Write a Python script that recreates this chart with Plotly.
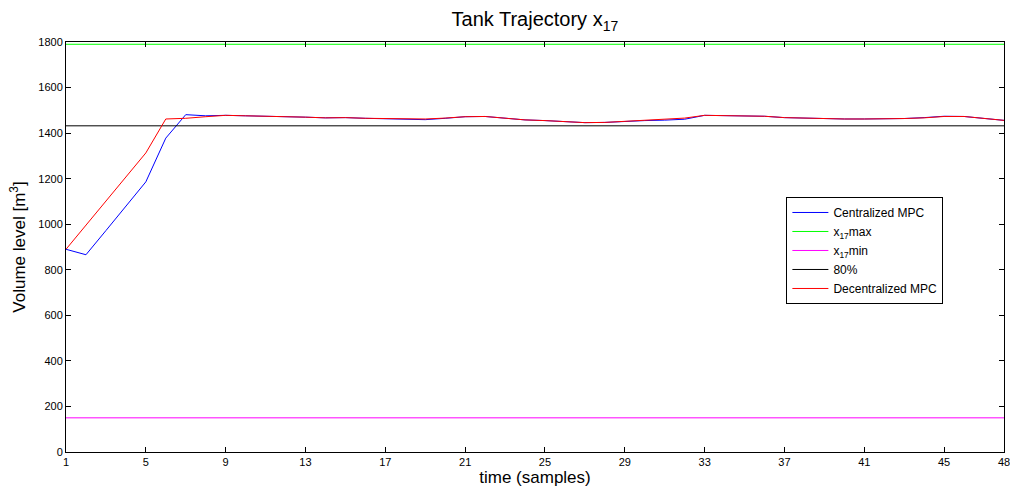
import plotly.graph_objects as go

samples = list(range(1, 49))

centralized = [890, 866, 972, 1080, 1186, 1378, 1481, 1476, 1478, 1476,
               1475, 1473, 1470, 1467, 1468, 1465, 1463, 1459, 1459, 1465,
               1472, 1473, 1466, 1458, 1455, 1451, 1446, 1447, 1452, 1455,
               1457, 1461, 1478, 1476, 1474, 1474, 1468, 1465, 1463, 1462,
               1462, 1462, 1464, 1468, 1474, 1473, 1466, 1456]

decentralized = [890, 996, 1102, 1207, 1313, 1462, 1465, 1472, 1478, 1476,
                 1475, 1473, 1470, 1467, 1468, 1465, 1464, 1461, 1462, 1466,
                 1472, 1473, 1466, 1458, 1455, 1451, 1446, 1447, 1452, 1456,
                 1460, 1466, 1478, 1476, 1474, 1474, 1468, 1465, 1463, 1462,
                 1462, 1462, 1464, 1467, 1473, 1473, 1466, 1456]

x_max_level = 1790
x_min_level = 150
level_80pct = 1432

x_ticks = [1, 5, 9, 13, 17, 21, 25, 29, 33, 37, 41, 45, 48]
y_ticks = [0, 200, 400, 600, 800, 1000, 1200, 1400, 1600, 1800]

FONT = "Liberation Sans, Arial, Helvetica, sans-serif"

fig = go.Figure()
fig.add_trace(go.Scatter(x=samples, y=centralized, mode="lines",
                         name="Centralized MPC",
                         line=dict(color="#0000ff", width=1)))
fig.add_trace(go.Scatter(x=samples, y=[x_max_level] * len(samples), mode="lines",
                         name="x<sub>17</sub>max",
                         line=dict(color="#00ff00", width=1)))
fig.add_trace(go.Scatter(x=samples, y=[x_min_level] * len(samples), mode="lines",
                         name="x<sub>17</sub>min",
                         line=dict(color="#ff00ff", width=1)))
fig.add_trace(go.Scatter(x=samples, y=[level_80pct] * len(samples), mode="lines",
                         name="80%",
                         line=dict(color="#000000", width=1)))
fig.add_trace(go.Scatter(x=samples, y=decentralized, mode="lines",
                         name="Decentralized MPC",
                         line=dict(color="#ff0000", width=1)))

axis_common = dict(
    showgrid=False, zeroline=False, showline=True, linecolor="black",
    linewidth=1, mirror="ticks", ticks="inside", ticklen=5, tickcolor="black",
    tickfont=dict(family=FONT, size=11, color="black"),
    ticklabeloverflow="allow", automargin=False,
)

fig.update_layout(
    width=1010, height=495,
    margin=dict(l=66, r=6, t=42, b=43, autoexpand=False),
    paper_bgcolor="white", plot_bgcolor="white",
    font=dict(family=FONT, color="black"),
    title=dict(text="Tank Trajectory x<sub>17</sub>", x=0.5296, xanchor="center",
               y=0.975, yanchor="top", font=dict(family=FONT, size=20, color="black")),
    xaxis=dict(range=[1, 48], tickvals=x_ticks, ticktext=[str(t) for t in x_ticks],
               title=dict(text="time (samples)", standoff=2,
                          font=dict(family=FONT, size=17, color="black")),
               **axis_common),
    yaxis=dict(range=[0, 1800], tickvals=y_ticks, ticktext=[str(t) for t in y_ticks],
               title=dict(text="Volume level [m<sup>3</sup>]", standoff=8,
                          font=dict(family=FONT, size=17, color="black")),
               **axis_common),
    legend=dict(x=0.768, y=0.622, xanchor="left", yanchor="top",
                bgcolor="white", bordercolor="black", borderwidth=1,
                font=dict(family=FONT, size=12, color="black"),
                tracegroupgap=0, itemwidth=36),
    showlegend=True,
)

fig.write_html("out.html")
